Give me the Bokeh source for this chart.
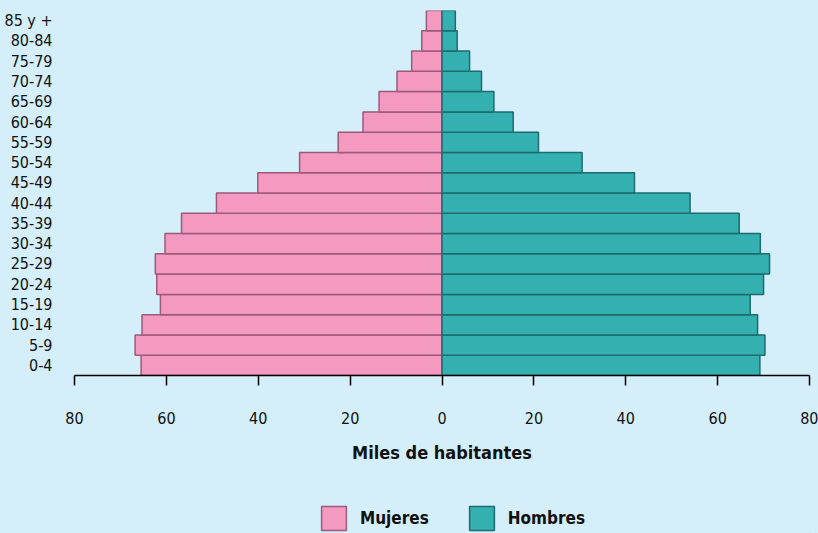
from bokeh.plotting import figure
from bokeh.layouts import column
from bokeh.models import ColumnDataSource, FactorRange, Range1d, FixedTicker, Legend, LegendItem
from bokeh.embed import file_html
from bokeh.resources import INLINE

ages = ["0-4", "5-9", "10-14", "15-19", "20-24", "25-29", "30-34", "35-39", "40-44",
        "45-49", "50-54", "55-59", "60-64", "65-69", "70-74", "75-79", "80-84", "85 y +"]
mujeres = [65.5, 66.8, 65.3, 61.3, 62.1, 62.4, 60.3, 56.7, 49.1, 40.1, 31.0, 22.6, 17.2, 13.7, 9.8, 6.6, 4.4, 3.4]
hombres = [69.2, 70.3, 68.7, 67.1, 70.0, 71.3, 69.3, 64.7, 54.0, 41.9, 30.5, 21.0, 15.5, 11.3, 8.6, 6.0, 3.3, 2.9]
x_ticks = [-80, -60, -40, -20, 0, 20, 40, 60, 80]
series_names = ["Mujeres", "Hombres"]

BG = "#d4eefa"
PINK = "#f49ac1"
PINK_LINE = "#9b5a78"
TEAL = "#35b0b0"
TEAL_LINE = "#1d6b6e"
FONT = "DejaVu Sans Condensed"

src = ColumnDataSource(dict(age=ages, muj=[-v for v in mujeres], hom=hombres, zero=[0] * len(ages)))

p = figure(width=818, height=500, output_backend="svg", toolbar_location=None,
           y_range=FactorRange(factors=ages, range_padding=0),
           x_range=Range1d(-80, 80),
           min_border_left=74, min_border_right=9, min_border_top=10, min_border_bottom=125)
p.background_fill_color = BG
p.border_fill_color = BG
p.outline_line_color = None
p.xgrid.grid_line_color = None
p.ygrid.grid_line_color = None

p.hbar(y="age", left="muj", right="zero", height=1.0, source=src,
       fill_color=PINK, line_color=PINK_LINE, line_width=1.5)
p.hbar(y="age", left="zero", right="hom", height=1.0, source=src,
       fill_color=TEAL, line_color=TEAL_LINE, line_width=1.5)

xa = p.xaxis[0]
xa.ticker = FixedTicker(ticks=x_ticks)
xa.major_label_overrides = {t: str(abs(t)) for t in x_ticks}
xa.axis_line_color = "black"
xa.axis_line_width = 1.5
xa.major_tick_line_color = "black"
xa.major_tick_line_width = 1.5
xa.major_tick_in = 0
xa.major_tick_out = 10
xa.minor_tick_line_color = None
xa.major_label_standoff = 26
xa.major_label_text_font = FONT
xa.major_label_text_font_size = "16px"
xa.major_label_text_color = "#111111"
xa.axis_label = "Miles de habitantes"
xa.axis_label_text_font = FONT
xa.axis_label_text_font_style = "bold"
xa.axis_label_text_font_size = "18px"
xa.axis_label_text_color = "#111111"
xa.axis_label_standoff = 15

ya = p.yaxis[0]
ya.axis_line_color = None
ya.major_tick_line_color = None
ya.minor_tick_line_color = None
ya.major_tick_out = 0
ya.major_tick_in = 0
ya.major_label_standoff = 22
ya.major_label_text_font = FONT
ya.major_label_text_font_size = "16px"
ya.major_label_text_color = "#111111"

# legend strip (proxy bars lie outside the strip's visible range)
p2 = figure(width=818, height=33, output_backend="svg", toolbar_location=None,
            x_range=Range1d(0, 1), y_range=Range1d(0, 1),
            min_border_left=0, min_border_right=0, min_border_top=0, min_border_bottom=0)
p2.axis.visible = False
p2.xgrid.grid_line_color = None
p2.ygrid.grid_line_color = None
p2.background_fill_color = BG
p2.border_fill_color = BG
p2.outline_line_color = None
proxy = ColumnDataSource(dict(y=[-50], left=[20], right=[30]))
l1 = p2.hbar(y="y", left="left", right="right", height=1, source=proxy,
             fill_color=PINK, line_color=PINK_LINE, line_width=1.5)
l2 = p2.hbar(y="y", left="left", right="right", height=1, source=proxy,
             fill_color=TEAL, line_color=TEAL_LINE, line_width=1.5)

legend = Legend(items=[LegendItem(label=series_names[0], renderers=[l1]),
                       LegendItem(label=series_names[1], renderers=[l2])],
                orientation="horizontal", location=(244, 0),
                glyph_width=31, glyph_height=30, label_standoff=11, spacing=37,
                padding=0, margin=0, border_line_color=None, background_fill_alpha=0,
                label_text_font=FONT, label_text_font_style="bold",
                label_text_font_size="17px", label_text_color="#111111",
                label_height=30)
p2.add_layout(legend, "center")

layout = column(p, p2, spacing=0)
layout.styles = {"background-color": BG}
open("out.html", "w").write(file_html(layout, INLINE))
